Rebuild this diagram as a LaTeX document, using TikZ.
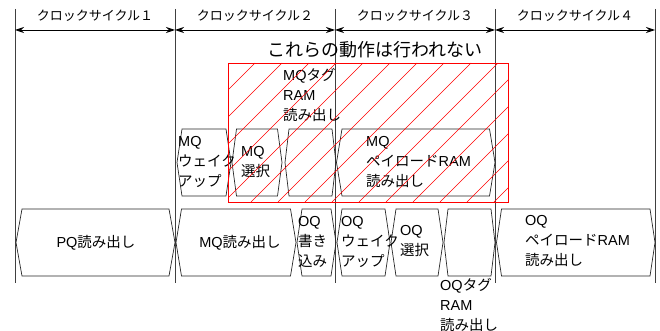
\documentclass[tikz,border=0pt]{standalone}
\usepackage{fontspec}
\setmainfont{Noto Sans CJK JP}
\newfontfamily\lat{Liberation Sans}
\newcommand\la[1]{{\lat #1}}
\usetikzlibrary{arrows.meta}
\tikzset{
  cycleline/.style={draw=black!75, line width=0.9pt},
  dimarrow/.style={{Stealth[length=9pt,width=6pt,inset=3pt]}-{Stealth[length=9pt,width=6pt,inset=3pt]}, line width=0.9pt},
  hexline/.style={draw=black!85, line width=0.7pt},
  lbl/.style={inner sep=0pt, align=left, font=\fontsize{14.5}{20}\selectfont, text=black},
  cyclbl/.style={inner sep=0pt, font=\fontsize{13}{16}\selectfont},
  hatchline/.style={draw=red, line width=0.6pt},
}
\newcommand\hexbox[6]{%
  \draw[hexline] (#2,{(#4+#5)/2}) -- (#2+#6,#4) -- (#3-#6,#4) -- (#3,{(#4+#5)/2}) -- (#3-#6,#5) -- (#2+#6,#5) -- cycle;
  \coordinate (#1) at ({(#2+#3)/2},{(#4+#5)/2});
}
\begin{document}
\begin{tikzpicture}[x=1pt,y=-1pt]
\useasboundingbox (0,0) rectangle (660,331);
% cycle boundary lines
\foreach \n/\x in {0/15,1/175,2/335,3/495,4/655}{
  \coordinate (t\n) at (\x,9);
  \coordinate (b\n) at (\x,283);
  \coordinate (a\n) at (\x,30);
  \draw[cycleline] (t\n) -- (b\n);
}
\draw[dimarrow] (a0) -- (a1);
\draw[dimarrow] (a1) -- (a2);
\draw[dimarrow] (a2) -- (a3);
\draw[dimarrow] (a3) -- (a4);
\node[cyclbl] (c1) at (95,16) {クロックサイクル１};
\node[cyclbl] (c2) at (255,16) {クロックサイクル２};
\node[cyclbl] (c3) at (415,16) {クロックサイクル３};
\node[cyclbl] (c4) at (575,16) {クロックサイクル４};
% upper row
\hexbox{uw}{177}{231}{129}{196}{5}
\hexbox{us}{232}{282}{129}{196}{4.5}
\hexbox{ue}{285}{336}{129}{196}{4}
\hexbox{up}{336.5}{495}{129}{196}{5.5}
% lower row
\hexbox{pq}{16}{175}{209}{276}{6}
\hexbox{mq}{176}{296}{209}{276}{5.5}
\hexbox{ow}{297}{336}{209}{276}{5}
\hexbox{oqw}{337}{390}{209}{276}{5}
\hexbox{oqs}{391}{443}{209}{276}{5}
\hexbox{oqe}{444}{495}{209}{276}{4}
\hexbox{oqp}{496.5}{655}{209}{276}{5}
% texts
\node[lbl, anchor=west] (tuw) at (178,162) {\la{MQ}\\ウェイク\\アップ};
\node[lbl, anchor=west] (tus) at (241,162.5) {\la{MQ}\\選択};
\node[lbl, anchor=west] (tmqtag) at (283,95) {\la{MQ}タグ\\\la{RAM}\\読み出し};
\node[lbl, anchor=west] (tup) at (366,162) {\la{MQ}\\ペイロード\la{RAM}\\読み出し};
\node[lbl] (tpq) at (96,243) {\la{PQ}読み出し};
\node[lbl] (tmq) at (240,243) {\la{MQ}読み出し};
\node[lbl, anchor=west] (tow) at (298,242) {\la{OQ}\\書き\\込み};
\node[lbl, anchor=west] (toqw) at (341,242) {\la{OQ}\\ウェイク\\アップ};
\node[lbl, anchor=west] (toqs) at (400,241) {\la{OQ}\\選択};
\node[lbl, anchor=west] (toqtag) at (440,305) {\la{OQ}タグ\\\la{RAM}\\読み出し};
\node[lbl, anchor=west] (toqp) at (525,241) {\la{OQ}\\ペイロード\la{RAM}\\読み出し};
% hatched region
\coordinate (h1) at (228,63);
\coordinate (h2) at (508,202);
\begin{scope}
  \clip (h1) rectangle (h2);
  \foreach \k in {0,...,17}{
    \draw[hatchline] (228-139+\k*27,202) -- (228+\k*27,63);
  }
\end{scope}
\draw[hatchline] (h1) rectangle (h2);
\node[inner sep=0pt, font=\fontsize{18}{20}\selectfont] (title) at (375,50) {これらの動作は行われない};
\end{tikzpicture}
\end{document}
